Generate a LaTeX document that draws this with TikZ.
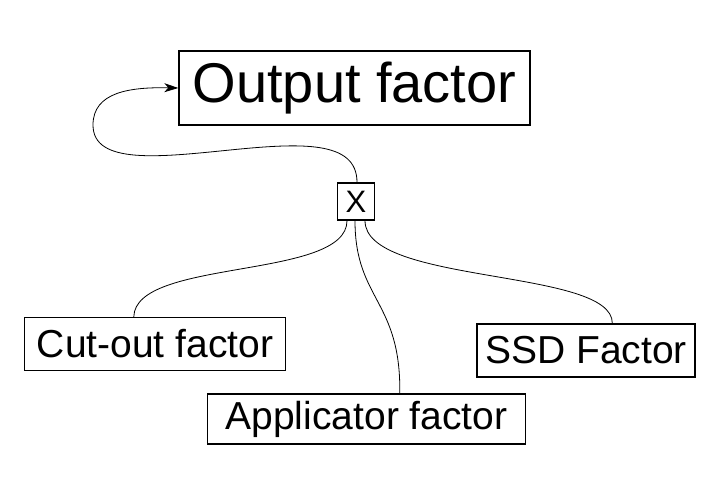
\documentclass[tikz,border=0pt]{standalone}
\usepackage{fontspec}
\setmainfont{Liberation Sans}
\usetikzlibrary{calc,arrows.meta}
\begin{document}
\begin{tikzpicture}[x=1pt,y=-1pt,
  box/.style={draw,line width=1.4pt,inner sep=0pt,fill=white,font=\fontsize{39}{41}\selectfont},
  link/.style={line width=0.8pt}]
\useasboundingbox (0,0) rectangle (722,482);
\node[box,minimum width=351pt,minimum height=74pt,font=\fontsize{56}{60}\selectfont] (out) at (354.5,88) {Output factor};
\node[box,minimum width=37pt,minimum height=37pt,font=\fontsize{31}{33}\selectfont] (x) at (356,201.5) {X};
\node[box,minimum width=261pt,minimum height=53pt] (cut) at (155,344) {Cut-out factor};
\node[box,minimum width=318pt,minimum height=50pt] (app) at (366.5,419) {Applicator factor};
\node[box,minimum width=218pt,minimum height=53pt] (ssd) at (586,350.5) {SSD Factor};
\coordinate (xa) at ($(x.south)+(-9,0)$);
\coordinate (xb) at ($(x.south)+(-1,0)$);
\coordinate (xc) at ($(x.south)+(9,0)$);
\coordinate (xt) at ($(x.north)+(1,0)$);
\coordinate (cuttop) at ($(cut.north west)+(110,0)$);
\coordinate (apptop) at ($(app.north west)+(193,0)$);
\coordinate (ssdtop) at ($(ssd.north west)+(136,0)$);
\draw[link] (xa) .. controls (347,280) and (135,258) .. (cuttop);
\draw[link] (xb) .. controls (355,300) and (401,300) .. (apptop);
\draw[link] (xc) .. controls (365,285) and (613,268) .. (ssdtop);
\draw[link,-{Stealth[length=14pt,width=9pt,inset=4pt]}] (xt) .. controls (357,140) and (300,143) .. (230,150)
  .. controls (160,157) and (93,165) .. (93,125)
  .. controls (93,92) and (130,87) .. (out.west);
\end{tikzpicture}
\end{document}
